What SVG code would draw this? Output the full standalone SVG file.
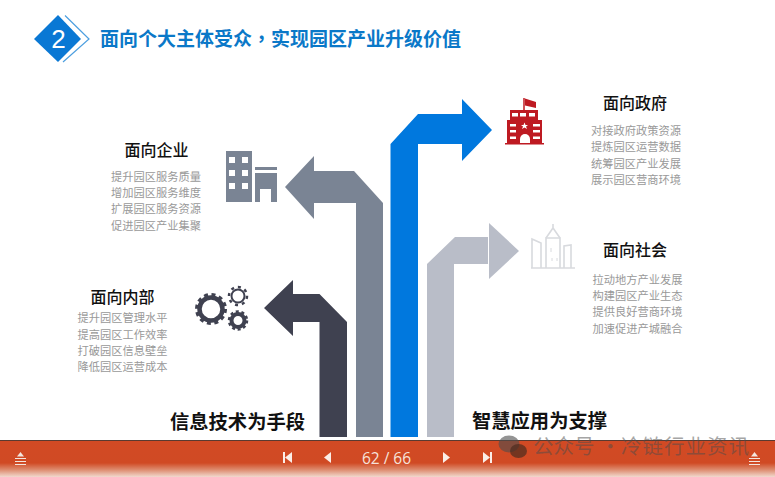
<svg xmlns="http://www.w3.org/2000/svg" width="775" height="477" viewBox="0 0 775 477">
<style>
text{font-family:"Liberation Sans","Noto Sans CJK SC",sans-serif}
.h{font-family:"Noto Sans CJK SC",sans-serif;font-size:16px;font-weight:500;fill:#111;text-anchor:middle}
.b{font-family:"Noto Sans CJK SC",sans-serif;font-size:11.250px;fill:#999;text-anchor:middle}
.f{font-family:"Noto Sans CJK SC",sans-serif;font-size:19.300px;font-weight:700;fill:#111;text-anchor:middle}
.wm{font-family:"Noto Sans CJK SC",sans-serif;font-size:20.500px;fill:#4c4c4c;fill-opacity:.5}
.menu{stroke:#f3e6df;stroke-width:1;fill:none}
</style>
<defs>
<linearGradient id="bar" x1="0" y1="0" x2="0" y2="1">
<stop offset="0" stop-color="#d24a24"/><stop offset=".62" stop-color="#d04a24"/><stop offset=".8" stop-color="#dd8a6d"/><stop offset="1" stop-color="#f1d9cf"/>
</linearGradient>
</defs>
<rect width="775" height="477" fill="#fff"/>
<g id="title">
<path d="M65 15.500 L89 39 L63 62" fill="none" stroke="#4d9fe0" stroke-width="1.200"/>
<path d="M58 15 L81 39 L58 62 L34 39Z" fill="#0a78d4"/>
<text x="58.500" y="48" font-size="26" fill="#fff" text-anchor="middle">2</text>
<text x="100" y="46" style="font-family:'Noto Sans CJK SC',sans-serif;font-size:19px;font-weight:700;fill:#0a78c8">面向个大主体受众<tspan style="font-family:'Noto Sans CJK TC',sans-serif">，</tspan>实现园区产业升级价值</text>
</g>
<g id="connectors">
<path d="M390.500 437V144L418 114H462V99L492 130L462 161V144H418V437Z" fill="#0078de"/>
<path d="M383 437V203L354 171H314V156L285 187L314 219V203H356V437Z" fill="#7a8494"/>
<path d="M427 437V264L455 237H488V264H454V437Z" fill="#b9bdc8"/>
<path d="M489 223L519 251L489 279Z" fill="#b9bdc8"/>
<path d="M347 437V322L319.500 294H293V280L264 308L293 336V322H319.500V437Z" fill="#3f4150"/>
</g>
<g id="node-enterprise">
<path d="M226 151H252V202H226Z" fill="#7a8494"/>
<g fill="#fff"><rect x="229" y="157" width="6" height="6"/><rect x="242" y="157" width="6" height="6"/><rect x="229" y="170" width="6" height="6"/><rect x="242" y="170" width="6" height="6"/><rect x="229" y="183" width="6" height="6"/><rect x="242" y="183" width="6" height="6"/></g>
<rect x="255" y="167" width="22" height="3" fill="#7a8494"/>
<path d="M255 173H277V202H271V189H260V202H255Z" fill="#7a8494"/>
<text class="h" x="156.500" y="156">面向企业</text>
<text class="b" x="156" y="181">提升园区服务质量</text>
<text class="b" x="156" y="197">增加园区服务维度</text>
<text class="b" x="156" y="213">扩展园区服务资源</text>
<text class="b" x="156" y="230">促进园区产业集聚</text>
</g>
<g id="node-internal">
<g fill="none" stroke="#3f4150">
<circle cx="211" cy="309" r="11.500" stroke-width="4.500"/>
<circle cx="211" cy="309" r="14.500" stroke-width="3" stroke-dasharray="4 3.600"/>
<circle cx="238" cy="296" r="6.500" stroke-width="2"/>
<circle cx="238" cy="296" r="9" stroke-width="2.500" stroke-dasharray="3 4"/>
<circle cx="238" cy="320.500" r="6.500" stroke-width="4"/>
<circle cx="238" cy="320.500" r="9" stroke-width="2.500" stroke-dasharray="3 2.700"/>
</g>
<text class="h" x="122.500" y="303">面向内部</text>
<text class="b" x="122.500" y="322">提升园区管理水平</text>
<text class="b" x="122.500" y="339">提高园区工作效率</text>
<text class="b" x="122.500" y="355">打破园区信息壁垒</text>
<text class="b" x="122.500" y="371">降低园区运营成本</text>
</g>
<g id="node-government">
<path d="M524 110V98" stroke="#be1a22" stroke-width="1.500"/>
<path d="M525 98.500L536 102V108L525 105.500Z" fill="#be1a22"/>
<path d="M510 110H538V120H542V143H544V144.500H505V143H507V120H510Z" fill="#be1a22"/>
<g fill="#fff"><rect x="512" y="113" width="6" height="3.500"/><rect x="520" y="113" width="6" height="3.500"/><rect x="529" y="113" width="6" height="3.500"/><rect x="510" y="124" width="6" height="2.500"/><rect x="533" y="124" width="7" height="2.500"/><rect x="510" y="130" width="6" height="2.500"/><rect x="533" y="130" width="7" height="2.500"/><rect x="510" y="136.500" width="6" height="2.500"/><rect x="533" y="136.500" width="7" height="2.500"/><path d="M520 143V139A4.500 4.500 0 0 1 530 139V143Z"/><path d="M524.500 122.500L525.500 125H528L526 126.500L527 129L524.500 127.500L522 129L523 126.500L521 125H523.500Z"/></g>
<text class="h" x="635" y="109">面向政府</text>
<text class="b" x="636" y="135">对接政府政策资源</text>
<text class="b" x="636" y="151">提炼园区运营数据</text>
<text class="b" x="636" y="168">统筹园区产业发展</text>
<text class="b" x="636" y="184">展示园区营商环境</text>
</g>
<g id="node-society">
<g fill="none" stroke="#d8dade" stroke-width="1.600">
<path d="M532 268V239L541 243V268"/>
<path d="M546 268V238H560V268"/>
<path d="M546 238L553 228L560 238M553 228V224"/>
<path d="M564 268V246L571 245V268"/>
<path d="M531 268H575"/>
<path d="M551 248V252M552 258V261M557 258V261" stroke-width="1"/>
</g>
<text class="h" x="635" y="256">面向社会</text>
<text class="b" x="637.500" y="284">拉动地方产业发展</text>
<text class="b" x="637.500" y="300">构建园区产业生态</text>
<text class="b" x="637.500" y="316">提供良好营商环境</text>
<text class="b" x="637.500" y="333">加速促进产城融合</text>
</g>
<g id="node-labels">
<text class="f" x="237.500" y="429">信息技术为手段</text>
<text class="f" x="539.500" y="428">智慧应用为支撑</text>
</g>
<g id="toolbar">
<rect y="440" width="775" height="37" fill="url(#bar)"/>
<rect y="440" width="775" height="1" fill="#5a3a30"/>
<g class="menu"><path d="M15 458.500H26M15 461.500H26M15 464.500H26"/><path d="M749 458.500H760M749 461.500H760M749 464.500H760"/></g>
<path d="M20.500 452L24 456.500H17Z" fill="#f3e6df"/><path d="M754.500 452L758 456.500H751Z" fill="#f3e6df"/>
<g fill="#fbeee8">
<rect x="283" y="452" width="2" height="11"/><path d="M292 452V463L285 457.500Z"/>
<path d="M331 452V463L324 457.500Z"/>
<path d="M443 452V463L450 457.500Z"/>
<path d="M483 452V463L490 457.500Z"/><rect x="490" y="452" width="2" height="11"/>
</g>
<text x="386.500" y="464" font-size="15.500" fill="#f6e2da" text-anchor="middle" style="font-family:'Open Sans',sans-serif">62 / 66</text>
<g id="watermark">
<ellipse cx="509" cy="444" rx="10.500" ry="8.500" fill="#4c4c4c" fill-opacity=".6"/>
<ellipse cx="518.500" cy="451" rx="8.500" ry="7" fill="#4c2c20" fill-opacity=".7"/>
<text class="wm" x="533" y="454">公众号</text>
<text class="wm" x="600" y="454">·</text>
<text class="wm" x="621" y="454" letter-spacing="1">冷链行业资讯</text>
</g>
</g>
</svg>
